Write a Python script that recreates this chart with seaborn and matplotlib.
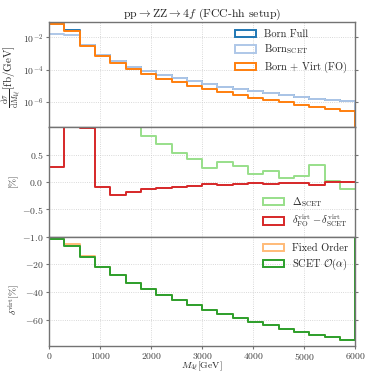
import numpy as np
import pandas as pd
import matplotlib
matplotlib.use("Agg")
import matplotlib.pyplot as plt
import seaborn as sns
from matplotlib.patches import Patch
from matplotlib.ticker import NullLocator

# ---------------- data ----------------
bin_edges = list(range(0, 6300, 300))
bin_centers = [(a + b) / 2 for a, b in zip(bin_edges[:-1], bin_edges[1:])]

born_full = [7.3e-2, 2.8e-2, 3.5e-3, 8.6e-4, 3.35e-4, 1.42e-4, 7.9e-5, 4.7e-5, 2.9e-5, 1.86e-5,
             1.26e-5, 8.7e-6, 6.5e-6, 4.7e-6, 3.5e-6, 2.6e-6, 1.95e-6, 1.55e-6, 1.26e-6, 1.05e-6]
born_scet = [1.6e-2, 1.4e-2, 3.3e-3, 8.3e-4, 3.3e-4, 1.4e-4, 7.9e-5, 4.7e-5, 2.9e-5, 1.86e-5,
             1.26e-5, 8.7e-6, 6.5e-6, 4.7e-6, 3.5e-6, 2.6e-6, 1.95e-6, 1.55e-6, 1.26e-6, 1.05e-6]
born_virt_fo = [7.1e-2, 2.6e-2, 3.0e-3, 7.1e-4, 2.45e-4, 1.05e-4, 5.1e-5, 2.6e-5, 1.6e-5, 9.1e-6,
                6.2e-6, 4.0e-6, 2.6e-6, 1.7e-6, 1.2e-6, 9.1e-7, 6.5e-7, 4.7e-7, 3.5e-7, 2.5e-7]

delta_scet = [6.0, 5.0, 4.0, 3.0, 2.0, 1.4, 0.84, 0.69, 0.53, 0.42,
              0.26, 0.36, 0.30, 0.15, 0.20, 0.07, 0.11, 0.31, 0.02, -0.135]
dvirt_fo_minus_scet = [0.28, 1.6, 0.99, -0.10, -0.23, -0.18, -0.135, -0.11, -0.09, -0.07,
                       -0.04, -0.06, -0.04, -0.025, -0.04, -0.02, -0.025, -0.05, 0.005, 0.005]

dvirt_fo = [-1.9, -5.4, -13.9, -21.9, -28.0, -33.5, -38.1, -42.2, -46.0, -49.6,
            -52.8, -55.7, -58.6, -61.2, -63.9, -66.5, -68.7, -70.8, -72.5, -74.2]
dvirt_scet = [-2.2, -6.7, -14.9, -21.9, -28.0, -33.5, -38.1, -42.2, -46.0, -49.6,
              -52.8, -55.7, -58.6, -61.2, -63.9, -66.5, -68.7, -70.8, -72.5, -74.2]

df = pd.DataFrame(dict(m=bin_centers, born_full=born_full, born_scet=born_scet,
                       born_virt_fo=born_virt_fo, delta_scet=delta_scet,
                       ddiff=dvirt_fo_minus_scet, dvirt_fo=dvirt_fo, dvirt_scet=dvirt_scet))

# ---------------- style ----------------
sns.set_style("ticks")
plt.rcParams.update({
    "font.family": "serif",
    "font.serif": ["cmr10", "DejaVu Serif"],
    "mathtext.fontset": "cm",
    "axes.formatter.use_mathtext": True,
    "axes.unicode_minus": True,
})

fs_tick = 7
fs_lab = 7
fs_leg = 7.5
spine_col = "0.45"

fig, axes = plt.subplots(3, 1, sharex=True, figsize=(3.74, 3.74), dpi=100,
                         gridspec_kw=dict(height_ratios=[105.3, 109, 109], hspace=0))
fig.subplots_adjust(left=0.131, right=0.950, top=0.941, bottom=0.0757)
ax1, ax2, ax3 = axes


def closed_step(ax, col, color, label, lw=1.4):
    sns.histplot(data=df, x="m", weights=col, bins=bin_edges, element="step",
                 fill=True, color=color, facecolor="none", edgecolor=color, linewidth=lw,
                 label=label, ax=ax)


def open_step(ax, col, color, lw=1.4):
    sns.histplot(data=df, x="m", weights=col, bins=bin_edges, element="step",
                 fill=False, color=color, linewidth=lw, ax=ax)


# top panel
ax1.set_yscale("log")
closed_step(ax1, "born_full", "#1f77b4", "Born Full")
closed_step(ax1, "born_scet", "#aec7e8", r"Born$_{\mathrm{SCET}}$")
closed_step(ax1, "born_virt_fo", "#ff7f0e", r"Born $+$ Virt (FO)")
ax1.set_ylim(10 ** -7.6, 10 ** -1.04)
ax1.set_yticks([1e-6, 1e-4, 1e-2])
ax1.yaxis.set_minor_locator(NullLocator())
ax1.set_ylabel(r"$\frac{\mathrm{d}\sigma}{\mathrm{d}M_{4\ell}}[\mathrm{fb}/\mathrm{GeV}]$",
               fontsize=8)
ax1.yaxis.set_label_coords(-0.085, 0.48)
ax1.set_title(r"$\mathrm{pp}\rightarrow\mathrm{ZZ}\rightarrow 4f$ (FCC-hh setup)",
              fontsize=8.5, pad=4)
ax1.legend(loc="upper right", frameon=False, fontsize=fs_leg,
           borderaxespad=0.3, labelspacing=0.35)

# middle panel
open_step(ax2, "delta_scet", "#98df8a")
open_step(ax2, "ddiff", "#d62728")
ax2.set_ylim(-1.0, 1.0)
ax2.set_yticks([-1.0, -0.5, 0.0, 0.5])
ax2.set_ylabel(r"$[\%]$", fontsize=fs_lab)
ax2.yaxis.set_label_coords(-0.09, 0.5)
h2 = [Patch(facecolor="none", edgecolor="#98df8a", linewidth=1.4),
      Patch(facecolor="none", edgecolor="#d62728", linewidth=1.4)]
ax2.legend(h2, [r"$\Delta_{\mathrm{SCET}}$",
                r"$\delta^{\mathrm{virt}}_{\mathrm{FO}}-\delta^{\mathrm{virt}}_{\mathrm{SCET}}$"],
           loc="lower right", frameon=False, fontsize=fs_leg,
           borderaxespad=0.3, labelspacing=0.35)

# bottom panel
closed_step(ax3, "dvirt_fo", "#ffbb78", "Fixed Order")
closed_step(ax3, "dvirt_scet", "#2ca02c", r"SCET $\mathcal{O}(\alpha)$")
ax3.set_ylim(-78.4, -0.3)
ax3.set_yticks([-60, -40, -20])
ax3.set_ylabel(r"$\delta^{\mathrm{virt}}[\%]$", fontsize=fs_lab)
ax3.yaxis.set_label_coords(-0.088, 0.42)
ax3.legend(loc="upper right", frameon=False, fontsize=fs_leg,
           borderaxespad=0.3, labelspacing=0.35)

ax3.set_xlim(0, 6000)
ax3.set_xticks(list(range(0, 7000, 1000)))
ax3.set_xlabel(r"$M_{4\ell}[\mathrm{GeV}]$", fontsize=fs_lab)
ax3.xaxis.set_label_coords(0.5, -0.128)

for ax in axes:
    ax.grid(True, ls=":", color="0.8", lw=0.6)
    ax.set_axisbelow(True)
    for s in ax.spines.values():
        s.set_color(spine_col)
        s.set_linewidth(1.0)
    ax.tick_params(axis="y", which="both", left=True, right=True, direction="out",
                   length=2.5, width=0.8, color=spine_col, labelsize=fs_tick, labelcolor="0.25", pad=1.5)
    ax.tick_params(axis="x", labelsize=fs_tick, labelcolor="0.25", color=spine_col,
                   length=2.5, width=0.8, pad=1.2)
for ax in (ax1, ax2):
    ax.tick_params(axis="x", length=0, labelbottom=False)
    ax.set_xlabel("")

fig.savefig("out.png", dpi=100)
